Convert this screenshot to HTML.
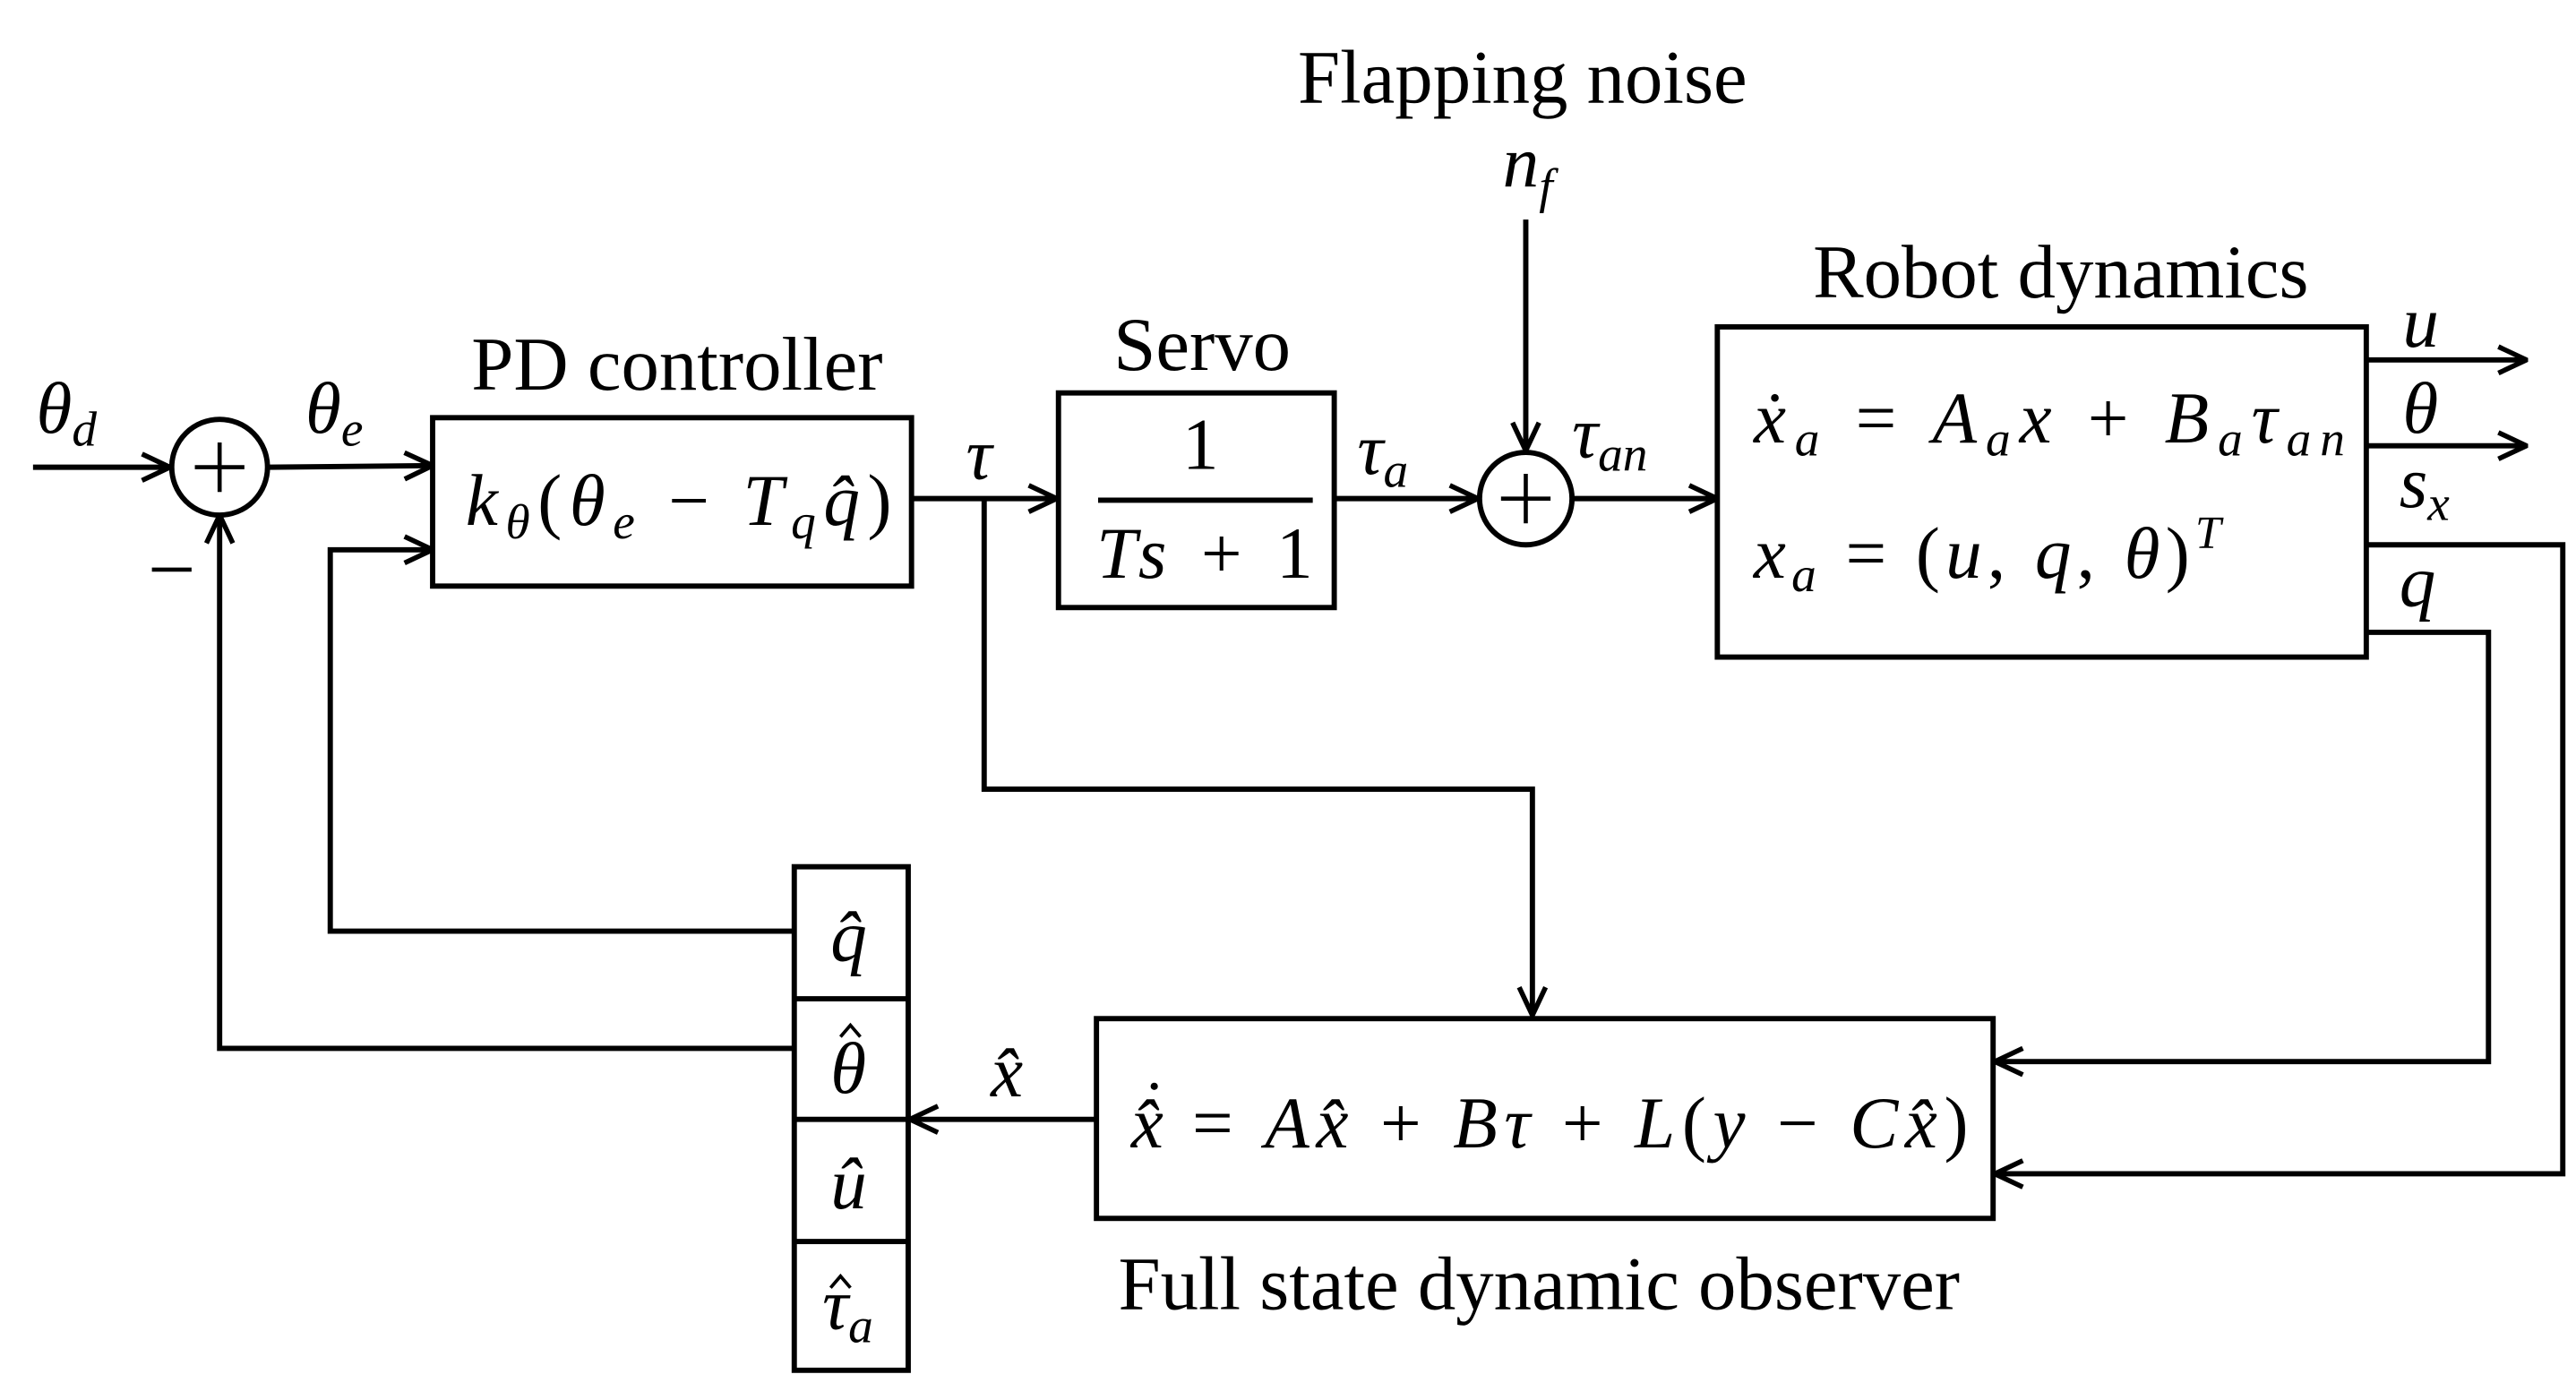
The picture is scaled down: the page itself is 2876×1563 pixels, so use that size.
<!DOCTYPE html>
<html><head><meta charset="utf-8"><style>
html,body{margin:0;padding:0;background:#fff;}
svg{display:block;}
text{font-family:"Liberation Serif","DejaVu Serif",serif;fill:#000;}
.m{font-style:italic;}
</style></head><body>
<svg width="2876" height="1563" viewBox="0 0 1560 848" preserveAspectRatio="none" xmlns="http://www.w3.org/2000/svg">
<defs>
<marker id="a" viewBox="0 0 20 20" refX="19" refY="10" markerWidth="20" markerHeight="20" markerUnits="userSpaceOnUse" orient="auto">
<path d="M2,2 L19,10 L2,18" fill="none" stroke="#000" stroke-width="3"/>
</marker>
</defs>
<g stroke="#000" stroke-width="3.2" fill="none">
<rect x="262" y="253" width="290" height="102"/>
<rect x="641" y="238" width="167" height="130"/>
<rect x="1040" y="198" width="393" height="200"/>
<rect x="664" y="617" width="543" height="121"/>
<rect x="481" y="525" width="69" height="305"/>
<line x1="481" y1="605" x2="550" y2="605"/>
<line x1="481" y1="678" x2="550" y2="678"/>
<line x1="481" y1="752" x2="550" y2="752"/>
<line x1="665" y1="303" x2="795" y2="303"/>
<circle cx="133" cy="283" r="29"/>
<circle cx="924" cy="302" r="28"/>
<line x1="20" y1="283" x2="103" y2="283" marker-end="url(#a)"/>
<line x1="162" y1="283" x2="262" y2="282" marker-end="url(#a)"/>
<polyline points="481,564 200,564 200,333 262,333" marker-end="url(#a)"/>
<polyline points="481,635 133,635 133,312" marker-end="url(#a)"/>
<line x1="552" y1="302" x2="640" y2="302" marker-end="url(#a)"/>
<polyline points="596,302 596,478 928,478 928,615" marker-end="url(#a)"/>
<line x1="808" y1="302" x2="895" y2="302" marker-end="url(#a)"/>
<line x1="924" y1="133" x2="924" y2="273" marker-end="url(#a)"/>
<line x1="953" y1="302" x2="1040" y2="302" marker-end="url(#a)"/>
<line x1="1433" y1="218" x2="1530" y2="218" marker-end="url(#a)"/>
<line x1="1433" y1="270" x2="1530" y2="270" marker-end="url(#a)"/>
<polyline points="1433,330 1552,330 1552,711 1208,711" marker-end="url(#a)"/>
<polyline points="1433,383 1507,383 1507,643 1208,643" marker-end="url(#a)"/>
<line x1="664" y1="678" x2="551" y2="678" marker-end="url(#a)"/>
</g>
<g stroke="#000" stroke-width="2.5" fill="none">
<line x1="118" y1="283" x2="148" y2="283"/><line x1="133" y1="268" x2="133" y2="298"/>
<line x1="909" y1="302" x2="939" y2="302"/><line x1="924" y1="287" x2="924" y2="317"/>
<line x1="92" y1="345" x2="116" y2="345"/>
<path d="M509,628 L515,621 L521,628" stroke-width="2"/>
<path d="M503,780 L509,773 L515,780" stroke-width="2"/>
</g>
<circle cx="699" cy="658" r="2.2" fill="#000"/>
<g font-size="46" text-anchor="middle">
<text x="922" y="62">Flapping noise</text>
<text x="410" y="236">PD controller</text>
<text x="728" y="224">Servo</text>
<text x="1248" y="180">Robot dynamics</text>
<text x="932" y="793">Full state dynamic observer</text>
</g>
<g font-size="44" class="m">
<text x="22" y="262">θ<tspan font-size="30" dy="8">d</tspan></text>
<text x="185" y="262">θ<tspan font-size="30" dy="8">e</tspan></text>
<text x="282" y="318" textLength="258" lengthAdjust="spacing">k<tspan font-size="30" dy="8">θ</tspan><tspan dy="-8" font-style="normal">(</tspan>θ<tspan font-size="30" dy="8">e</tspan><tspan dy="-8" font-style="normal"> − </tspan>T<tspan font-size="30" dy="8">q</tspan><tspan dy="-8">q̂</tspan><tspan font-style="normal">)</tspan></text>
<text x="585" y="290">τ</text>
<text x="716" y="284" font-style="normal">1</text>
<text x="664" y="350" textLength="131" lengthAdjust="spacing">Ts<tspan font-style="normal"> + 1</tspan></text>
<text x="822" y="287">τ<tspan font-size="30" dy="8">a</tspan></text>
<text x="910" y="113">n<tspan font-size="30" dy="10">f</tspan></text>
<text x="952" y="277">τ<tspan font-size="30" dy="8">an</tspan></text>
<text x="1062" y="268" textLength="358" lengthAdjust="spacing">ẋ<tspan font-size="30" dy="8">a</tspan><tspan dy="-8" font-style="normal"> = </tspan>A<tspan font-size="30" dy="8">a</tspan><tspan dy="-8">x</tspan><tspan font-style="normal"> + </tspan>B<tspan font-size="30" dy="8">a</tspan><tspan dy="-8">τ</tspan><tspan font-size="30" dy="8">an</tspan></text>
<text x="1062" y="350" textLength="283" lengthAdjust="spacing">x<tspan font-size="30" dy="8">a</tspan><tspan dy="-8" font-style="normal"> = (</tspan>u<tspan font-style="normal">, </tspan>q<tspan font-style="normal">, </tspan>θ<tspan font-style="normal">)</tspan><tspan font-size="28" dy="-18">T</tspan></text>
<text x="1455" y="210">u</text>
<text x="1455" y="262">θ</text>
<text x="1453" y="307">s<tspan font-size="30" dy="8">x</tspan></text>
<text x="1453" y="367">q</text>
<text x="685" y="695">x̂</text>
<text x="722" y="695" textLength="470" lengthAdjust="spacing"><tspan font-style="normal">= </tspan>Ax̂<tspan font-style="normal"> + </tspan>Bτ<tspan font-style="normal"> + </tspan>L<tspan font-style="normal">(</tspan>y<tspan font-style="normal"> − </tspan>Cx̂<tspan font-style="normal">)</tspan></text>
<text x="600" y="664">x̂</text>
<text x="503" y="582">q̂</text>
<text x="503" y="662">θ</text>
<text x="503" y="732">û</text>
<text x="498" y="805">τ<tspan font-size="30" dy="8">a</tspan></text>
</g>
</svg>
</body></html>
